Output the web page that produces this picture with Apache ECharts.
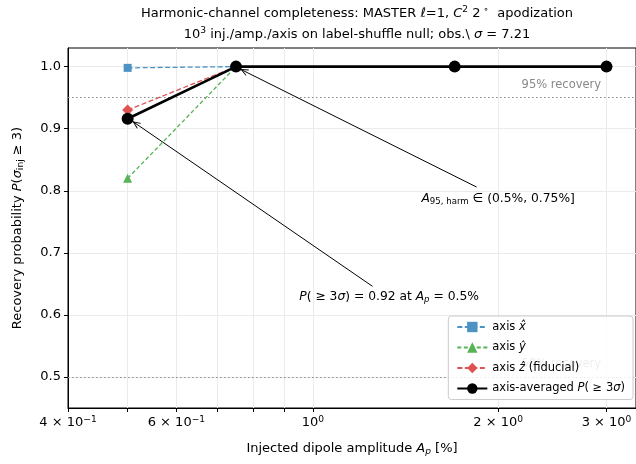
<!DOCTYPE html>
<html><head><meta charset="utf-8">
<script src="https://cdn.jsdelivr.net/npm/echarts@6/dist/echarts.min.js"></script>
<style>html,body{margin:0;padding:0;background:#fff}#c{width:636px;height:464px}</style>
</head><body><div id="c"></div>
<script>
// ---- data ----
const amplitudes = [0.5, 0.75, 1.7, 3.0];
const axisXValues = [0.998, 1.0, 1.0, 1.0];
const axisYValues = [0.82, 1.0, 1.0, 1.0];
const axisZValues = [0.93, 1.0, 1.0, 1.0];
const axisAvgValues = [0.916, 1.0, 1.0, 1.0];
const xTickValues = [0.4, 0.5, 0.6, 0.7, 0.8, 0.9, 1, 2, 3];
const xLabelValues = [0.4, 0.6, 1, 2, 3];
const xLabelTexts = ['4 × 10{sup|−1}', '6 × 10{sup|−1}', '10{sup|0}', '2 × 10{sup|0}', '3 × 10{sup|0}'];
const yTickValues = [0.5, 0.6, 0.7, 0.8, 0.9, 1.0];
const yTickLabels = ['0.5', '0.6', '0.7', '0.8', '0.9', '1.0'];
const refLevels = [0.95, 0.5];
const refLabels = ['95% recovery', '50% recovery'];
const refLabelX = 2.94;
// annotation: [text anchor x, y], [arrow tail x, y], [arrow tip x, y]
const ann1Text = [2.0, 0.787], ann1Tail = [1.845, 0.806], ann1Tip = [0.762, 0.996];
const ann2Text = [1.33, 0.629], ann2Tail = [1.25, 0.646], ann2Tip = [0.509, 0.912];

const FONT = 'DejaVu Sans';
const zip = (xs, ys) => xs.map((x, i) => [x, ys[i]]);
function richWith(size, color) {
  return {
    sup: { fontSize: size * 0.7, padding: [0, 0, size * 0.55, 0], fontFamily: FONT, color: color },
    sub: { fontSize: size * 0.7, padding: [size * 0.4, 0, 0, 0], fontFamily: FONT, color: color },
    isub: { fontSize: size * 0.7, fontStyle: 'italic', padding: [size * 0.4, 0, 0, 0], fontFamily: FONT, color: color },
    i: { fontSize: size, fontStyle: 'italic', fontFamily: FONT, color: color },
    n: { fontSize: size, fontFamily: FONT, color: color }
  };
}
const arrowHead = 'path://M0,10 L5,0 L10,10 L8.6,10 L5,2.8 L1.4,10 Z';

const legendNames = { ax: '{n|axis }{i|x\u0302}', ay: '{n|axis }{i|ŷ}', az: '{n|axis }{i|ẑ}{n| (fiducial)}', avg: '{n|axis-averaged }{i|P}{n|( ≥ 3}{i|σ}{n|)}' };

const chart = echarts.init(document.getElementById('c'), null, { renderer: 'canvas' });
const option = {
  animation: false,
  backgroundColor: '#fff',
  textStyle: { fontFamily: FONT },
  title: {
    text: '{n|Harmonic-channel completeness: MASTER }{i|ℓ}{n|=1, }{i|C}{sup|2}{n| 2}{sup| ∘}{n|  apodization}\n{n|10}{sup|3}{n| inj./amp./axis on label-shuffle null; obs.\\ }{i|σ}{n| = 7.21}',
    left: 352, top: -2, textAlign: 'center',
    textStyle: { fontSize: 13, fontWeight: 'normal', lineHeight: 21, rich: richWith(13, '#000') }
  },
  grid: { left: 68, right: -1, top: 48, bottom: 56, show: true, borderColor: '#000', borderWidth: 1, containLabel: false },
  legend: {
    orient: 'vertical', right: 3, top: 316, z: 20,
    data: ['ax', 'ay', 'az', 'avg'],
    formatter: n => legendNames[n],
    itemWidth: 30, itemHeight: 13, itemGap: 8.5,
    padding: [5, 8, 5, 8],
    backgroundColor: 'rgba(255,255,255,0.85)', borderColor: '#ccc', borderWidth: 1, borderRadius: 3,
    textStyle: { fontSize: 11.5, rich: richWith(11.5, '#000') }
  },
  xAxis: {
    type: 'log', logBase: 10, min: 0.4, max: 3.35,
    name: '{n|Injected dipole amplitude }{i|A}{isub|p}{n| [%]}',
    nameLocation: 'middle', nameGap: 34,
    nameTextStyle: { fontSize: 13, rich: richWith(13, '#000') },
    axisLine: { show: true, onZero: false, lineStyle: { color: '#000', width: 1 } },
    axisTick: { show: true, length: 4, inside: false, customValues: xTickValues, lineStyle: { color: '#000' } },
    axisLabel: {
      show: true, customValues: xLabelValues, margin: 7, fontSize: 13, color: '#000',
      formatter: v => { let best = 0; xLabelValues.forEach((t, k) => { if (Math.abs(t - v) < Math.abs(xLabelValues[best] - v)) best = k; }); return '{n|' + xLabelTexts[best].replace(/\{sup\|/, '}{sup|'); },
      rich: richWith(13, '#000')
    },
    splitLine: { show: true, lineStyle: { color: '#ebebeb', width: 1 } },
    minorTick: { show: false }, minorSplitLine: { show: false }
  },
  yAxis: {
    type: 'value', min: 0.45, max: 1.03,
    name: '{n|Recovery probability }{i|P}{n|(}{i|σ}{sub|inj}{n| ≥ 3)}',
    nameLocation: 'middle', nameGap: 43, nameRotate: 90,
    nameTextStyle: { fontSize: 13, rich: richWith(13, '#000') },
    axisLine: { show: true, onZero: false, lineStyle: { color: '#000', width: 1 } },
    axisTick: { show: true, length: 4, customValues: yTickValues, lineStyle: { color: '#000' } },
    axisLabel: { show: true, customValues: yTickValues, fontSize: 13, color: '#000', margin: 7,
      formatter: v => { let best = 0; yTickValues.forEach((t, k) => { if (Math.abs(t - v) < Math.abs(yTickValues[best] - v)) best = k; }); return yTickLabels[best]; } },
    splitLine: { show: true, lineStyle: { color: '#ebebeb', width: 1 } }
  },
  series: [
    {
      type: 'line', name: 'helper', data: [], silent: true, z: 1,
      markLine: {
        silent: true, symbol: 'none', animation: false,
        label: { show: false },
        lineStyle: { color: '#888', width: 1, type: [1.5, 2.5] },
        data: refLevels.map(v => ({ yAxis: v }))
      },
      markPoint: {
        silent: true, symbol: 'circle', symbolSize: 1, itemStyle: { color: 'rgba(0,0,0,0)' }, animation: false,
        data: refLevels.map((v, k) => ({
          coord: [refLabelX, v],
          label: { show: true, position: 'inside', align: 'right', verticalAlign: 'bottom', offset: [0, -7], formatter: refLabels[k], color: '#888', fontSize: 11.5, fontFamily: FONT }
        })).concat([
          { coord: ann1Text, label: { show: true, position: 'inside', align: 'center', verticalAlign: 'middle', formatter: '{i|A}{sub|95, harm}{n| ∈ (0.5%, 0.75%]}', rich: richWith(12.3, '#000') } },
          { coord: ann2Text, label: { show: true, position: 'inside', align: 'center', verticalAlign: 'middle', formatter: '{i|P}{n|( ≥ 3}{i|σ}{n|) = 0.92 at }{i|A}{isub|p}{n| = 0.5%}', rich: richWith(12.3, '#000') } }
        ])
      }
    },
    {
      type: 'line', name: 'arrows', data: [], silent: true, z: 3,
      markLine: {
        silent: true, animation: false, symbol: ['none', arrowHead], symbolSize: [7, 8], symbolOffset: [0, [0, 4]],
        label: { show: false },
        lineStyle: { color: '#000', width: 1, type: 'solid' },
        itemStyle: { color: '#000' },
        data: [[{ coord: ann1Tail }, { coord: ann1Tip }], [{ coord: ann2Tail }, { coord: ann2Tip }]]
      }
    },
    {
      type: 'line', name: 'ax', data: zip(amplitudes, axisXValues), z: 4,
      symbol: 'rect', symbolSize: 8, showAllSymbol: true,
      itemStyle: { color: '#4c92c3' }, lineStyle: { color: '#4c92c3', width: 1.3, type: [5, 2.5] }
    },
    {
      type: 'line', name: 'ay', data: zip(amplitudes, axisYValues), z: 4,
      symbol: 'triangle', symbolSize: 9, showAllSymbol: true,
      itemStyle: { color: '#56b356' }, lineStyle: { color: '#56b356', width: 1.3, type: [4, 2.5] }
    },
    {
      type: 'line', name: 'az', data: zip(amplitudes, axisZValues), z: 4,
      symbol: 'diamond', symbolSize: 11, showAllSymbol: true,
      itemStyle: { color: '#de5253' }, lineStyle: { color: '#de5253', width: 1.3, type: [5, 2.5] }
    },
    {
      type: 'line', name: 'avg', data: zip(amplitudes, axisAvgValues), z: 5,
      symbol: 'circle', symbolSize: 12, showAllSymbol: true,
      itemStyle: { color: '#000' }, lineStyle: { color: '#000', width: 2.6, type: 'solid' }
    }
  ]
};
chart.setOption(option);
</script></body></html>
